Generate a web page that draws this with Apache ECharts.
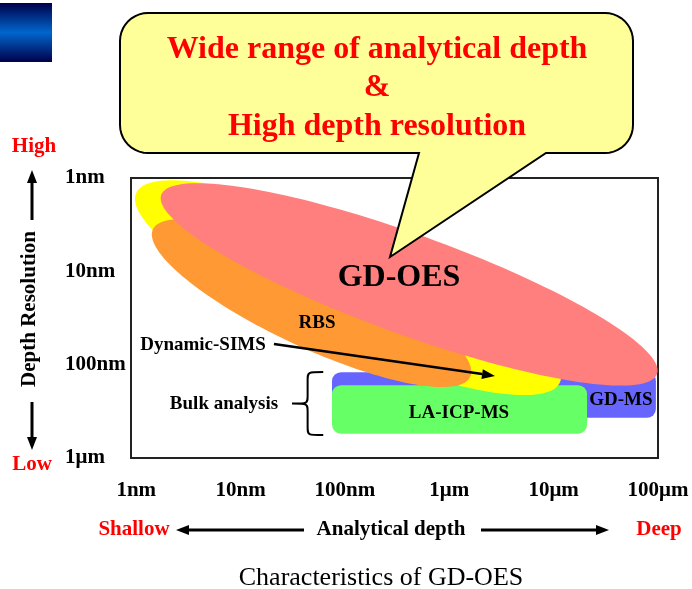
<!DOCTYPE html>
<html><head><meta charset="utf-8">
<script src="https://cdn.jsdelivr.net/npm/echarts@6/dist/echarts.min.js"></script>
<style>html,body{margin:0;padding:0;background:#fff}#c{width:692px;height:589px}</style>
</head><body><div id="c"></div>
<script>
// ---- data (log10 of depth in nm on x; log10 of resolution in nm on y) ----
const xTicks = ['1nm', '10nm', '100nm', '1\u03bcm', '10\u03bcm', '100\u03bcm'];
const yTicks = ['1nm', '10nm', '100nm', '1\u03bcm'];

const ellipseNames = ['Dynamic-SIMS', 'RBS', 'GD-OES'];
const ellipseFrom = [[0.00, 0.16], [0.16, 0.55], [0.24, 0.18]];
const ellipseTo = [[4.06, 2.19], [3.20, 2.13], [4.99, 2.10]];
const ellipseHalfWidth = [0.595, 0.475, 0.536];

const bulkNames = ['GD-MS', 'LA-ICP-MS'];
const bulkDepth = [[1.876, 4.98], [1.876, 4.32]];
const bulkRes = [[2.08, 2.57], [2.22, 2.74]];

const labelTexts = ['GD-OES', 'RBS', 'Dynamic-SIMS', 'Bulk analysis', 'LA-ICP-MS', 'GD-MS'];
const labelDepth = [2.518, 1.732, 0.640, 0.841, 3.093, 4.645];
const labelRes = [1.071, 1.554, 1.790, 2.421, 2.518, 2.379];

const simsArrowFrom = [1.32, 1.779];
const simsArrowTo = [3.438, 2.121];
const braceDepth = [1.493, 1.792];
const braceRes = [2.079, 2.754];

// ---- styles ----
const SERIF = '"Liberation Serif", "Times New Roman", serif';
const ellipseColors = ['#FFFF00', '#FF9933', '#FF7F7F'];
const bulkColors = ['#6666FF', '#66FF66'];
const labelSizes = [32, 19, 19, 19, 19, 19];

const chart = echarts.init(document.getElementById('c'), null, {renderer: 'canvas'});

function ellipseItem(params, api) {
  const p1 = api.coord([api.value(0), api.value(1)]);
  const p2 = api.coord([api.value(2), api.value(3)]);
  const hw = Math.abs(api.size([0, api.value(4)])[1]);
  const cx = (p1[0] + p2[0]) / 2, cy = (p1[1] + p2[1]) / 2;
  const a = Math.hypot(p2[0] - p1[0], p2[1] - p1[1]) / 2;
  const t = Math.atan2(p2[1] - p1[1], p2[0] - p1[0]);
  const pts = [];
  for (let i = 0; i < 160; i++) {
    const s = i / 160 * 2 * Math.PI;
    const ex = a * Math.cos(s), ey = hw * Math.sin(s);
    pts.push([cx + ex * Math.cos(t) - ey * Math.sin(t), cy + ex * Math.sin(t) + ey * Math.cos(t)]);
  }
  return {type: 'polygon', shape: {points: pts}, style: {fill: ellipseColors[params.dataIndex]}};
}

function rectItem(params, api) {
  const p1 = api.coord([api.value(0), api.value(2)]);
  const p2 = api.coord([api.value(1), api.value(3)]);
  return {
    type: 'rect',
    shape: {x: Math.min(p1[0], p2[0]), y: Math.min(p1[1], p2[1]),
      width: Math.abs(p2[0] - p1[0]), height: Math.abs(p2[1] - p1[1]), r: 9},
    style: {fill: bulkColors[params.dataIndex]}
  };
}

function labelItem(params, api) {
  const p = api.coord([api.value(0), api.value(1)]);
  return {
    type: 'text', x: p[0], y: p[1],
    style: {
      text: labelTexts[params.dataIndex], fill: '#000',
      font: 'bold ' + labelSizes[params.dataIndex] + 'px ' + SERIF,
      align: 'center', verticalAlign: 'middle'
    }
  };
}

function annotItem(params, api) {
  const a0 = api.coord(simsArrowFrom), a1 = api.coord(simsArrowTo);
  const ang = Math.atan2(a1[1] - a0[1], a1[0] - a0[0]);
  const L = 13, W = 5;
  const bx = a1[0] - L * Math.cos(ang), by = a1[1] - L * Math.sin(ang);
  const head = [a1, [bx - W * Math.sin(ang), by + W * Math.cos(ang)], [bx + W * Math.sin(ang), by - W * Math.cos(ang)]];
  const t = api.coord([braceDepth[0], braceRes[0]]);
  const b = api.coord([braceDepth[1], braceRes[1]]);
  const xt = t[0], xe = b[0], yt = t[1], yb = b[1];
  const xm = (xt + xe) / 2, ym = (yt + yb) / 2, r = 8;
  const brace = `M${xe},${yt} C${xm},${yt} ${xm},${yt} ${xm},${yt + r} L${xm},${ym - r} C${xm},${ym} ${xm},${ym} ${xt},${ym} ` +
    `C${xm},${ym} ${xm},${ym} ${xm},${ym + r} L${xm},${yb - r} C${xm},${yb} ${xm},${yb} ${xe},${yb}`;
  return {
    type: 'group',
    children: [
      {type: 'line', shape: {x1: a0[0], y1: a0[1], x2: bx, y2: by}, style: {stroke: '#000', lineWidth: 2.5}},
      {type: 'polygon', shape: {points: head}, style: {fill: '#000'}},
      {type: 'path', shape: {pathData: brace}, style: {stroke: '#000', lineWidth: 2, fill: null}}
    ]
  };
}

const ellipseData = ellipseNames.map((n, i) => [ellipseFrom[i][0], ellipseFrom[i][1], ellipseTo[i][0], ellipseTo[i][1], ellipseHalfWidth[i]]);
const bulkData = bulkNames.map((n, i) => [bulkDepth[i][0], bulkDepth[i][1], bulkRes[i][0], bulkRes[i][1]]);
const labelData = labelTexts.map((n, i) => [labelDepth[i], labelRes[i]]);

const txt = (text, x, y, size, color, extra) => Object.assign({
  type: 'text', x: x, y: y, z: 50,
  style: {text: text, fill: color, font: 'bold ' + size + 'px ' + SERIF,
    align: 'center', verticalAlign: 'middle'}
}, extra || {});

// speech bubble outline (rounded rectangle + tail) as polygon points
function bubblePoints() {
  const L = 120, T = 13, R = 633, B = 153, r = 28, pts = [];
  const arc = (cx, cy, a0, a1) => { for (let i = 0; i <= 10; i++) { const a = a0 + (a1 - a0) * i / 10; pts.push([cx + r * Math.cos(a), cy + r * Math.sin(a)]); } };
  arc(L + r, T + r, Math.PI, 1.5 * Math.PI);
  arc(R - r, T + r, 1.5 * Math.PI, 2 * Math.PI);
  arc(R - r, B - r, 0, 0.5 * Math.PI);
  pts.push([546, B], [390, 257], [419, B]);
  arc(L + r, B - r, 0.5 * Math.PI, Math.PI);
  return pts;
}

chart.setOption({
  animation: false,
  backgroundColor: '#fff',
  grid: {left: 131, top: 178, width: 527, height: 280, show: true, borderColor: '#222', borderWidth: 2, backgroundColor: '#fff'},
  xAxis: {
    type: 'value', min: -0.05, max: 5,
    axisLine: {show: false}, axisTick: {show: false}, splitLine: {show: false},
    axisLabel: {customValues: [0, 1, 2, 3, 4, 5], formatter: v => xTicks[Math.round(v)] || '',
      margin: 22, color: '#000', fontFamily: SERIF, fontWeight: 'bold', fontSize: 21}
  },
  yAxis: {
    type: 'value', min: 0, max: 3, interval: 1, inverse: true,
    axisLine: {show: false}, axisTick: {show: false}, splitLine: {show: false},
    axisLabel: {formatter: v => yTicks[Math.round(v)] || '', align: 'left', margin: 66,
      color: '#000', fontFamily: SERIF, fontWeight: 'bold', fontSize: 21}
  },
  series: [
    {type: 'custom', name: 'bulk', renderItem: rectItem, data: bulkData, z: 2, silent: true},
    {type: 'custom', name: 'depth profiling', renderItem: ellipseItem, data: ellipseData, z: 3, silent: true},
    {type: 'custom', name: 'labels', renderItem: labelItem, data: labelData, z: 5, silent: true},
    {type: 'custom', name: 'annotations', renderItem: annotItem, data: [[0, 0]], z: 6, silent: true}
  ],
  graphic: [
    {type: 'rect', shape: {x: 0, y: 3, width: 52, height: 59}, z: 50,
      style: {fill: new echarts.graphic.LinearGradient(0, 0, 0, 1, [
        {offset: 0, color: '#00004a'}, {offset: 0.5, color: '#0066cc'}, {offset: 1, color: '#00004a'}])}},
    {type: 'polygon', shape: {points: bubblePoints()}, z: 60, style: {fill: '#FFFF99', stroke: '#000', lineWidth: 2}},
    txt('Wide range of analytical depth', 377, 50, 32, '#FF0000', {z: 61}),
    txt('&', 377, 88, 32, '#FF0000', {z: 61}),
    txt('High depth resolution', 377, 127, 32, '#FF0000', {z: 61}),
    txt('High', 34, 147, 21, '#FF0000'),
    txt('Low', 32, 465, 21, '#FF0000'),
    txt('Depth Resolution', 30, 309, 21, '#000', {rotation: Math.PI / 2}),
    {type: 'line', z: 50, shape: {x1: 32, y1: 181, x2: 32, y2: 220}, style: {stroke: '#000', lineWidth: 3}},
    {type: 'polygon', z: 50, shape: {points: [[32, 170], [27, 183], [37, 183]]}, style: {fill: '#000'}},
    {type: 'line', z: 50, shape: {x1: 32, y1: 402, x2: 32, y2: 439}, style: {stroke: '#000', lineWidth: 3}},
    {type: 'polygon', z: 50, shape: {points: [[32, 450], [27, 437], [37, 437]]}, style: {fill: '#000'}},
    txt('Shallow', 134, 530, 21, '#FF0000'),
    txt('Analytical depth', 391, 530, 21, '#000'),
    txt('Deep', 659, 530, 21, '#FF0000'),
    {type: 'line', z: 50, shape: {x1: 187, y1: 530, x2: 304, y2: 530}, style: {stroke: '#000', lineWidth: 3}},
    {type: 'polygon', z: 50, shape: {points: [[176, 530], [189, 525], [189, 535]]}, style: {fill: '#000'}},
    {type: 'line', z: 50, shape: {x1: 481, y1: 530, x2: 598, y2: 530}, style: {stroke: '#000', lineWidth: 3}},
    {type: 'polygon', z: 50, shape: {points: [[609, 530], [596, 525], [596, 535]]}, style: {fill: '#000'}},
    {type: 'text', x: 381, y: 578, z: 50,
      style: {text: 'Characteristics of GD-OES', fill: '#000', font: '26px ' + SERIF,
        align: 'center', verticalAlign: 'middle'}}
  ]
});
</script>
</body></html>
